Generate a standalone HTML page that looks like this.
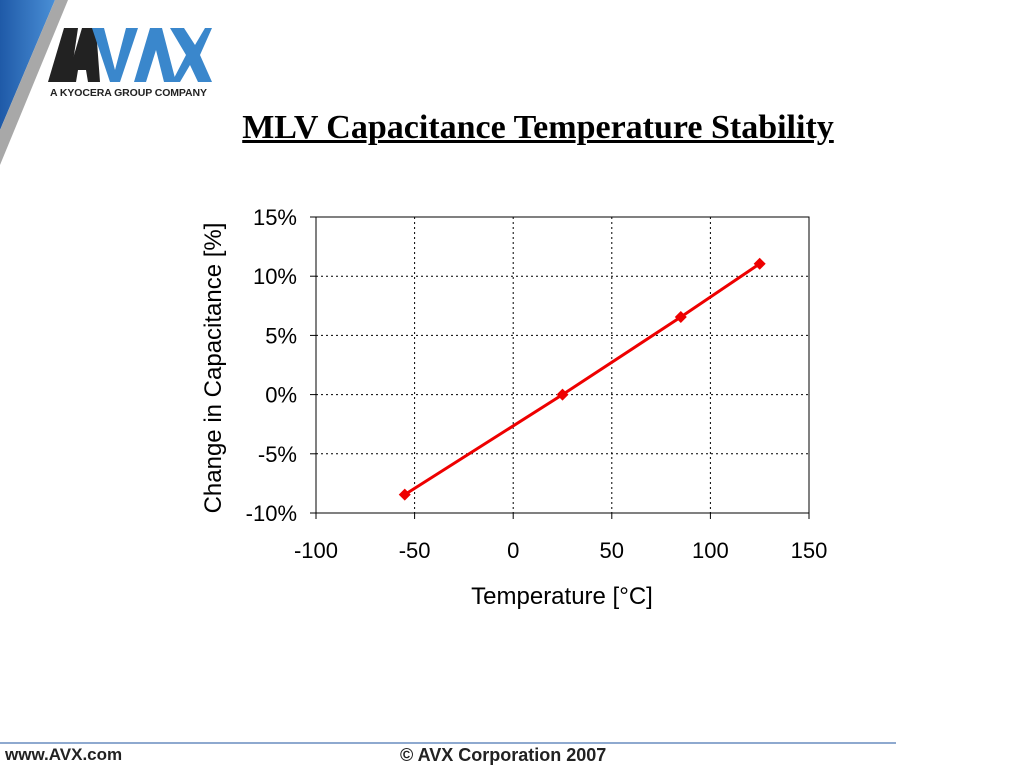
<!DOCTYPE html>
<html><head><meta charset="utf-8"><style>
body{margin:0;width:1024px;height:768px;background:#fff;position:relative;overflow:hidden;font-family:"Liberation Sans",sans-serif}
.t{position:absolute}
</style></head><body>
<svg class="t" style="left:0;top:0" width="230" height="170">
<defs><linearGradient id="g" x1="0" x2="1"><stop offset="0" stop-color="#1f5aa8"/><stop offset="1" stop-color="#4a8fd6"/></linearGradient></defs>
<polygon points="0,0 55,0 0,130" fill="url(#g)"/>
<polygon points="55,0 68,0 0,165 0,130" fill="#a8a8a8"/>
<polygon points="48,82 64,28 78,28 70,82" fill="#222"/>
<polygon points="66,82 82,28 96,28 100,82 88,82 86,70 78,70 76,82" fill="#222"/>
<polygon points="92,28 104,28 115,70 126,28 138,28 120,82 110,82" fill="#3a87cc"/>
<polygon points="134,82 150,28 162,28 176,82 164,82 156,50 146,82" fill="#3a87cc"/>
<polygon points="170,28 184,28 195,45 205,28 212,28 200,55 212,82 198,82 190,65 180,82 172,82 186,55" fill="#3a87cc"/>
<text x="50" y="96" font-size="10.5" font-weight="bold" fill="#222" font-family="Liberation Sans" textLength="157">A KYOCERA GROUP COMPANY</text>
</svg>
<div class="t" style="left:0;width:1076px;top:109px;text-align:center;font-family:'Liberation Serif',serif;font-weight:bold;font-size:34px;text-decoration:underline">MLV Capacitance Temperature Stability</div>
<svg class="t" id="c" style="left:0;top:0" width="1024" height="768"></svg>
<div class="t" style="left:0;top:742px;width:896px;height:2px;background:#8ea9cf"></div>
<div class="t" style="left:5px;top:745px;font-size:17px;font-weight:bold;color:#222">www.AVX.com</div>
<div class="t" style="left:400px;top:745px;font-size:18px;font-weight:bold;color:#222">© AVX Corporation 2007</div>
<script>
const xTicks=[-100,-50,0,50,100,150];
const yTicks=[-10,-5,0,5,10,15];
const temps=[-55,25,85,125];
const caps=[-8.45,0,6.55,11.05];
const X0=316,X1=809,Y0=513,Y1=217;
const sx=v=>X0+(v+100)/250*(X1-X0);
const sy=v=>Y0-(v+10)/25*(Y0-Y1);
const svg=document.getElementById('c');const NS='http://www.w3.org/2000/svg';
function mk(t,a,txt){const e=document.createElementNS(NS,t);for(const k in a)e.setAttribute(k,a[k]);if(txt!=null)e.textContent=txt;svg.appendChild(e);return e;}
xTicks.forEach(v=>{const x=sx(v);
if(v>-100&&v<150){const l=mk('line',{x1:x,x2:x,y1:Y1,y2:Y0,stroke:'#000','stroke-dasharray':'2,3','stroke-width':1});

}
mk('line',{x1:x,x2:x,y1:Y0,y2:Y0+6,stroke:'#000'});
const t=mk('text',{x:x,y:Y0+45,'text-anchor':'middle','font-size':22,'font-family':'Liberation Sans'},v);

});
yTicks.forEach(v=>{const y=sy(v);
if(v>-10&&v<15){const l=mk('line',{x1:X0,x2:X1,y1:y,y2:y,stroke:'#000','stroke-dasharray':'2,3','stroke-width':1});

}
mk('line',{x1:X0-6,x2:X0,y1:y,y2:y,stroke:'#000'});
const t=mk('text',{x:X0-19,y:y+8,'text-anchor':'end','font-size':22,'font-family':'Liberation Sans'},v+'%');

});
const fr=mk('rect',{x:X0,y:Y1,width:X1-X0,height:Y0-Y1,fill:'none',stroke:'#000','stroke-width':1});


const pl=mk('polyline',{points:temps.map((t,i)=>sx(t)+','+sy(caps[i])).join(' '),fill:'none',stroke:'#ee0000','stroke-width':3});


temps.forEach((t,i)=>{const x=sx(t),y=sy(caps[i]);
const p=mk('polygon',{points:`${x},${y-6} ${x+6},${y} ${x},${y+6} ${x-6},${y}`,fill:'#ee0000'});

});
const xt=mk('text',{x:562,y:604,'text-anchor':'middle','font-size':24,'font-family':'Liberation Sans'},'Temperature [°C]');


const yt=mk('text',{x:0,y:0,'text-anchor':'middle','font-size':24,'font-family':'Liberation Sans',transform:'translate(221,368) rotate(-90)'},'Change in Capacitance [%]');


</script>
</body></html>
